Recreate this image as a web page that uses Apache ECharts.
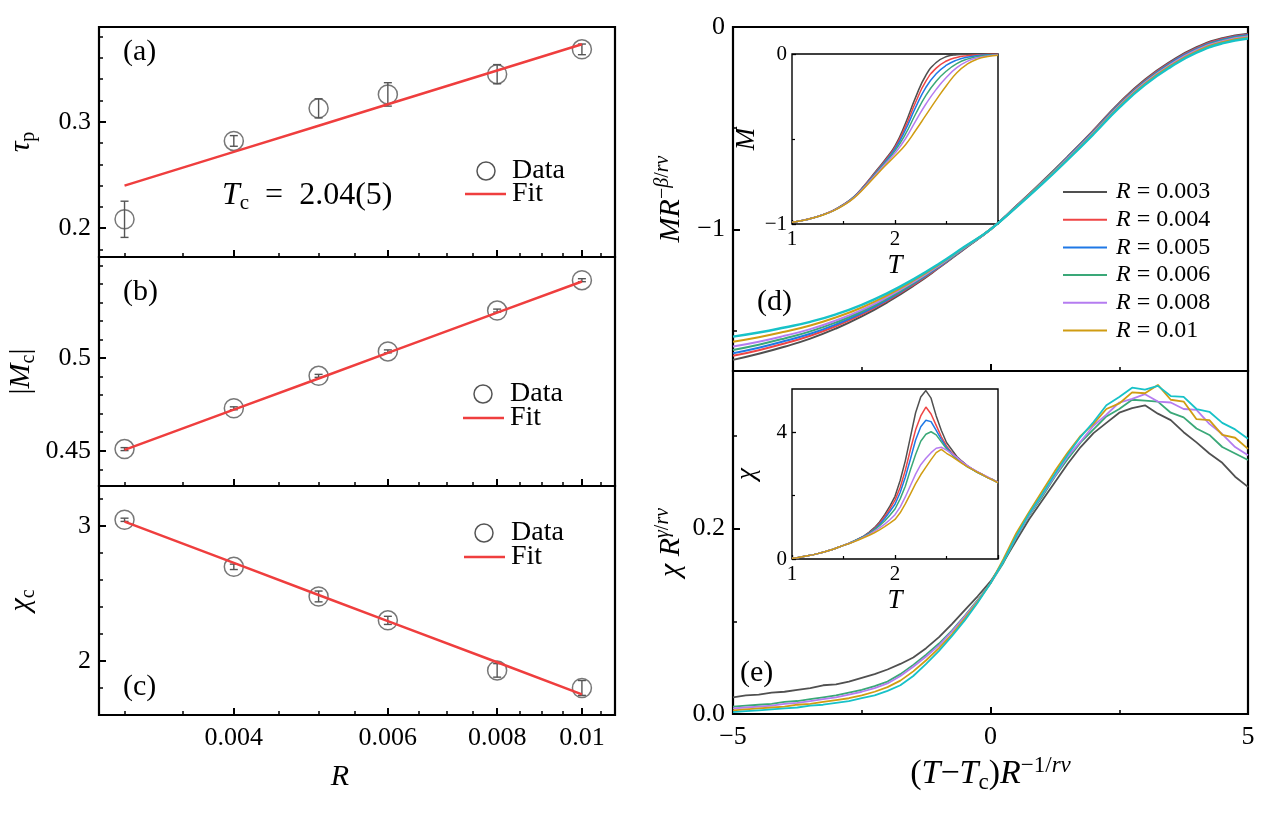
<!DOCTYPE html>
<html><head><meta charset="utf-8">
<script src="https://cdn.jsdelivr.net/npm/echarts@6/dist/echarts.min.js"></script>
<style>html,body{margin:0;padding:0;background:#fff}#c{width:1261px;height:815px}</style>
</head><body><div id="c"></div>
<script>
// ---------- data: left panels ----------
const R = [0.003, 0.004, 0.005, 0.006, 0.008, 0.01];
const tauP = [0.2084, 0.282, 0.3126, 0.3257, 0.3447, 0.368];
const tauPErr = [0.017, 0.005, 0.009, 0.011, 0.009, 0.005];
const tauPFit = [0.240, 0.2717, 0.2963, 0.3164, 0.3482, 0.3728];
const magC = [0.4509, 0.4729, 0.4904, 0.5036, 0.5256, 0.542];
const magCErr = [0.0008, 0.0008, 0.0008, 0.0008, 0.0008, 0.0008];
const magCFit = [0.4505, 0.4722, 0.4890, 0.5028, 0.5245, 0.5413];
const chiC = [3.044, 2.696, 2.477, 2.30, 1.93, 1.80];
const chiCErr = [0.012, 0.02, 0.04, 0.03, 0.05, 0.055];
const chiCFit = [3.03, 2.725, 2.488, 2.295, 1.990, 1.753];
const leftMajorR = [0.004, 0.006, 0.008, 0.01];
const leftMinorR = [0.003, 0.0035, 0.0045, 0.005, 0.0055, 0.0065, 0.007, 0.0075, 0.0085, 0.009, 0.0095, 0.0105];
const tauTicks = [0.2, 0.3];
const tauMinor = [0.18, 0.22, 0.24, 0.26, 0.28, 0.32, 0.34, 0.36, 0.38];
const magTicks = [0.45, 0.5];
const magMinor = [0.44, 0.46, 0.47, 0.48, 0.49, 0.51, 0.52, 0.53, 0.54, 0.55];
const chiTicks = [2, 3];
const chiMinor = [1.8, 2.2, 2.4, 2.6, 2.8, 3.2];

// ---------- data: panel (d) ----------
const legendNames = ['R = 0.003', 'R = 0.004', 'R = 0.005', 'R = 0.006', 'R = 0.008', 'R = 0.01'];
const dX = [-5, -4.5, -4, -3.5, -3, -2.5, -2, -1.5, -1, -0.5, 0, 0.5, 1, 1.5, 2, 2.5, 3, 3.5, 4, 4.5, 5];
const dBlack  = [-1.645,-1.615,-1.580,-1.540,-1.490,-1.430,-1.360,-1.280,-1.190,-1.095,-1.000,-0.885,-0.765,-0.640,-0.510,-0.375,-0.260,-0.170,-0.100,-0.055,-0.033];
const dRed    = [-1.625,-1.597,-1.564,-1.526,-1.478,-1.420,-1.352,-1.274,-1.187,-1.093,-1.000,-0.886,-0.767,-0.643,-0.513,-0.379,-0.264,-0.175,-0.105,-0.059,-0.037];
const dBlue   = [-1.612,-1.585,-1.552,-1.516,-1.470,-1.414,-1.347,-1.270,-1.184,-1.092,-1.000,-0.887,-0.769,-0.645,-0.516,-0.382,-0.268,-0.178,-0.108,-0.063,-0.040];
const dGreen  = [-1.596,-1.570,-1.539,-1.504,-1.460,-1.406,-1.341,-1.266,-1.181,-1.091,-1.000,-0.888,-0.770,-0.647,-0.519,-0.385,-0.271,-0.182,-0.112,-0.066,-0.043];
const dPurple = [-1.579,-1.555,-1.526,-1.493,-1.450,-1.398,-1.334,-1.261,-1.179,-1.089,-1.000,-0.888,-0.772,-0.649,-0.521,-0.389,-0.275,-0.185,-0.115,-0.070,-0.047];
const dGold   = [-1.555,-1.533,-1.506,-1.475,-1.435,-1.386,-1.325,-1.254,-1.174,-1.087,-1.000,-0.890,-0.774,-0.653,-0.526,-0.394,-0.280,-0.191,-0.121,-0.075,-0.052];
const dCyan   = [-1.530,-1.510,-1.485,-1.457,-1.420,-1.373,-1.315,-1.247,-1.170,-1.085,-1.000,-0.891,-0.777,-0.656,-0.530,-0.399,-0.286,-0.197,-0.127,-0.081,-0.057];

// inset (d): M vs T
const mT = [1.0,1.1,1.2,1.3,1.4,1.5,1.6,1.7,1.8,1.9,2.0,2.1,2.2,2.3,2.4,2.5,2.6,2.7,2.8,2.9,3.0];
const mBlack  = [-0.99,-0.98,-0.965,-0.945,-0.92,-0.885,-0.84,-0.775,-0.70,-0.625,-0.54,-0.41,-0.255,-0.125,-0.05,-0.015,-0.004,-0.001,0,0,0];
const mRed    = [-0.99,-0.98,-0.965,-0.945,-0.92,-0.886,-0.841,-0.777,-0.704,-0.630,-0.549,-0.429,-0.284,-0.160,-0.083,-0.041,-0.020,-0.010,-0.0045,-0.002,-0.001];
const mBlue   = [-0.99,-0.98,-0.965,-0.946,-0.921,-0.887,-0.842,-0.780,-0.708,-0.636,-0.558,-0.448,-0.314,-0.196,-0.116,-0.066,-0.036,-0.019,-0.009,-0.0045,-0.0024];
const mGreen  = [-0.99,-0.98,-0.965,-0.946,-0.922,-0.888,-0.844,-0.783,-0.713,-0.643,-0.570,-0.473,-0.353,-0.243,-0.160,-0.100,-0.057,-0.030,-0.015,-0.0075,-0.004];
const mPurple = [-0.99,-0.98,-0.965,-0.946,-0.922,-0.889,-0.846,-0.786,-0.718,-0.650,-0.583,-0.500,-0.395,-0.294,-0.208,-0.137,-0.080,-0.043,-0.022,-0.011,-0.006];
const mGold   = [-0.99,-0.98,-0.965,-0.947,-0.923,-0.89,-0.848,-0.79,-0.725,-0.66,-0.60,-0.535,-0.45,-0.36,-0.27,-0.185,-0.11,-0.06,-0.03,-0.015,-0.008];

// ---------- data: panel (e) ----------
const eX = [-5,-4.75,-4.5,-4.25,-4,-3.75,-3.5,-3.25,-3,-2.75,-2.5,-2.25,-2,-1.75,-1.5,-1.25,-1,-0.75,-0.5,-0.25,0,0.25,0.5,0.75,1,1.25,1.5,1.75,2,2.25,2.5,2.75,3,3.25,3.5,3.75,4,4.25,4.5,4.75,5];
const eBlack  = [0.018,0.020,0.021,0.023,0.024,0.026,0.028,0.031,0.032,0.035,0.039,0.043,0.048,0.054,0.061,0.071,0.083,0.097,0.112,0.127,0.143,0.164,0.187,0.210,0.230,0.250,0.270,0.288,0.303,0.314,0.325,0.330,0.333,0.324,0.317,0.304,0.293,0.281,0.271,0.256,0.245];
const eGreen  = [0.008,0.009,0.010,0.011,0.013,0.014,0.016,0.018,0.020,0.023,0.026,0.030,0.035,0.043,0.053,0.064,0.076,0.090,0.106,0.123,0.141,0.163,0.190,0.214,0.234,0.256,0.275,0.293,0.307,0.321,0.329,0.339,0.338,0.337,0.325,0.320,0.308,0.301,0.288,0.281,0.274];
const ePurple = [0.006,0.007,0.008,0.009,0.011,0.012,0.014,0.016,0.018,0.021,0.024,0.028,0.033,0.041,0.051,0.062,0.074,0.089,0.105,0.122,0.141,0.165,0.191,0.215,0.236,0.257,0.278,0.294,0.311,0.323,0.336,0.340,0.345,0.337,0.336,0.329,0.328,0.313,0.302,0.288,0.279];
const eGold   = [0.004,0.005,0.006,0.007,0.008,0.010,0.011,0.013,0.015,0.017,0.020,0.024,0.029,0.036,0.046,0.058,0.071,0.086,0.103,0.121,0.141,0.167,0.195,0.218,0.240,0.262,0.282,0.300,0.313,0.329,0.335,0.347,0.346,0.355,0.339,0.337,0.318,0.317,0.301,0.298,0.286];
const eCyan   = [0.002,0.003,0.004,0.005,0.006,0.007,0.009,0.010,0.012,0.014,0.017,0.020,0.025,0.031,0.041,0.054,0.068,0.084,0.101,0.120,0.141,0.165,0.192,0.216,0.237,0.259,0.280,0.299,0.315,0.333,0.342,0.352,0.350,0.354,0.343,0.342,0.329,0.326,0.314,0.307,0.297];

// inset (e): chi vs T
const cT = [1.00,1.05,1.10,1.15,1.20,1.25,1.30,1.35,1.40,1.45,1.50,1.55,1.60,1.65,1.70,1.75,1.80,1.85,1.90,1.95,2.00,2.05,2.10,2.15,2.20,2.25,2.30,2.35,2.40,2.45,2.50,2.55,2.60,2.65,2.70,2.75,2.80,2.85,2.90,2.95,3.00];
const cBlack  = [0.02,0.04,0.07,0.10,0.13,0.17,0.21,0.26,0.31,0.37,0.43,0.49,0.56,0.64,0.73,0.85,0.99,1.17,1.40,1.67,1.98,2.48,3.10,3.86,4.62,5.12,5.32,5.08,4.52,4.06,3.68,3.46,3.24,3.09,2.95,2.85,2.74,2.67,2.57,2.51,2.42];
const cRed    = [0.02,0.04,0.07,0.10,0.13,0.17,0.21,0.26,0.31,0.37,0.43,0.49,0.56,0.64,0.72,0.83,0.96,1.13,1.34,1.58,1.86,2.26,2.80,3.46,4.08,4.52,4.80,4.58,4.22,3.86,3.57,3.36,3.20,3.06,2.94,2.84,2.75,2.66,2.58,2.50,2.43];
const cBlue   = [0.02,0.04,0.07,0.10,0.13,0.17,0.21,0.26,0.31,0.37,0.43,0.49,0.56,0.64,0.72,0.82,0.94,1.09,1.28,1.50,1.73,2.10,2.58,3.16,3.76,4.18,4.38,4.34,4.06,3.78,3.52,3.33,3.17,3.05,2.93,2.83,2.74,2.65,2.58,2.49,2.41];
const cGreen  = [0.02,0.04,0.07,0.10,0.13,0.17,0.21,0.26,0.31,0.37,0.43,0.49,0.56,0.63,0.71,0.80,0.92,1.05,1.20,1.38,1.58,1.90,2.30,2.82,3.30,3.72,3.94,4.02,3.92,3.70,3.48,3.31,3.16,3.04,2.92,2.83,2.74,2.66,2.57,2.50,2.42];
const cPurple = [0.02,0.04,0.07,0.10,0.13,0.17,0.21,0.26,0.31,0.37,0.43,0.49,0.55,0.62,0.70,0.78,0.88,0.98,1.10,1.24,1.40,1.64,1.96,2.32,2.68,2.98,3.18,3.36,3.50,3.53,3.44,3.33,3.21,3.07,2.96,2.85,2.76,2.67,2.59,2.50,2.43];
const cGold   = [0.02,0.04,0.07,0.10,0.13,0.17,0.21,0.26,0.31,0.37,0.43,0.48,0.54,0.61,0.68,0.75,0.83,0.92,1.02,1.13,1.25,1.46,1.74,2.06,2.38,2.66,2.90,3.14,3.36,3.46,3.34,3.24,3.13,3.02,2.92,2.83,2.74,2.66,2.57,2.49,2.41];

// ---------- styling ----------
const FONT = 'Liberation Serif';
const COL = {black:'#505050', red:'#ef4545', blue:'#1f78e6', green:'#3aa878', purple:'#b57cf0', gold:'#d09c12', cyan:'#17c2c8'};
const FIT = '#ef3e3e';
const L = v => Math.log10(v);
const RMIN = 0.002805, RMAX = 0.01091;
const minus = v => (v < 0 ? '\u2212' + String(-v) : String(v));

const RICH = {
  i:   {fontFamily: FONT, fontStyle: 'italic', fontSize: 30, lineHeight: 36, color: '#000'},
  n:   {fontFamily: FONT, fontSize: 30, lineHeight: 36, color: '#000'},
  s:   {fontFamily: FONT, fontSize: 20, lineHeight: 20, verticalAlign: 'bottom', color: '#000'},
  sup: {fontFamily: FONT, fontStyle: 'italic', fontSize: 20, lineHeight: 20, verticalAlign: 'top', color: '#000'},
  supn:{fontFamily: FONT, fontSize: 20, lineHeight: 20, verticalAlign: 'top', color: '#000'},
  ii:  {fontFamily: FONT, fontStyle: 'italic', fontSize: 27, lineHeight: 30, color: '#000'},
  I:   {fontFamily: FONT, fontStyle: 'italic', fontSize: 34, lineHeight: 40, color: '#000'},
  N:   {fontFamily: FONT, fontSize: 34, lineHeight: 40, color: '#000'},
  S:   {fontFamily: FONT, fontSize: 23, lineHeight: 22, verticalAlign: 'bottom', color: '#000'},
  SUP: {fontFamily: FONT, fontStyle: 'italic', fontSize: 23, lineHeight: 23, verticalAlign: 'top', color: '#000'},
  SUPN:{fontFamily: FONT, fontSize: 23, lineHeight: 23, verticalAlign: 'top', color: '#000'}
};
const nameStyle = {fontFamily: FONT, fontSize: 30, color: '#000', rich: RICH};
const tickLine = {color: '#000', width: 2};
const minorLine = {color: '#000', width: 1.5};
const labelBase = {color: '#000', fontFamily: FONT, fontSize: 26};

const grids = [
  {left: 99, top: 27, width: 516, height: 230},
  {left: 99, top: 257, width: 516, height: 229},
  {left: 99, top: 486, width: 516, height: 229},
  {left: 733, top: 27, width: 515, height: 344},
  {left: 733, top: 371, width: 515, height: 343},
  {left: 792, top: 54, width: 206, height: 170},
  {left: 792, top: 389, width: 206, height: 170}
].map((g, i) => Object.assign({show: true, borderColor: '#000', borderWidth: i >= 5 ? 1.4 : 2.2, backgroundColor: 'transparent'}, g));

const base = (axisGrid, min, max, pos) => ({type: 'value', gridIndex: axisGrid, min, max, position: pos,
  axisLine: {show: false, onZero: false}, splitLine: {show: false}});

const xAxis = [];
const yAxis = [];
// left x main (0..2)
[0, 1, 2].forEach(g => xAxis.push(Object.assign(base(g, L(RMIN), L(RMAX), 'bottom'), {
  axisTick: {show: true, inside: true, length: 7, customValues: leftMajorR.map(L), lineStyle: tickLine},
  axisLabel: Object.assign({show: g === 2, customValues: leftMajorR.map(L), margin: 10,
    formatter: v => String(+Math.pow(10, v).toPrecision(3))}, labelBase),
  name: g === 2 ? '{i|R}' : '', nameLocation: 'middle', nameGap: 44,
  nameTextStyle: Object.assign({padding: [0, 34, 0, 0]}, nameStyle)
})));
// right x main (3,4)
[3, 4].forEach(g => xAxis.push(Object.assign(base(g, -5, 5, 'bottom'), {
  interval: 5,
  axisTick: {show: true, inside: true, length: 7, lineStyle: tickLine},
  minorTick: {show: true, splitNumber: 2, length: 4, lineStyle: minorLine},
  axisLabel: Object.assign({show: g === 4, margin: 10, formatter: minus}, labelBase),
  name: g === 4 ? '{N|(}{I|T}{N|\u2212}{I|T}{S|c}{N|)}{I|R}{SUPN|\u22121/}{SUP|r\u03bd}' : '',
  nameLocation: 'middle', nameGap: 40, nameTextStyle: nameStyle
})));
// insets x (5,6)
[5, 6].forEach(g => xAxis.push(Object.assign(base(g, 1, 3, 'bottom'), {
  interval: 1,
  axisTick: {show: true, inside: true, length: 4, lineStyle: {color: '#000', width: 1.3}},
  minorTick: {show: true, splitNumber: 2, length: 3, lineStyle: {color: '#000', width: 1.2}},
  axisLabel: {showMaxLabel: false, margin: 5, color: '#000', fontFamily: FONT, fontSize: 21},
  name: '{ii|T}', nameLocation: 'middle', nameGap: 27, nameTextStyle: nameStyle
})));
// left x minor overlays (7..9)
[0, 1, 2].forEach(g => xAxis.push(Object.assign(base(g, L(RMIN), L(RMAX), 'bottom'), {
  axisTick: {show: true, inside: true, length: 4, customValues: leftMinorR.map(L), lineStyle: minorLine},
  axisLabel: {show: false}
})));

// y axes
const yDefs = [
  {g: 0, min: 0.173, max: 0.389, major: tauTicks, minor: tauMinor, fmt: v => v.toFixed(1),
   name: '{i|\u03c4}{s|p}', gap: 60},
  {g: 1, min: 0.431, max: 0.5545, major: magTicks, minor: magMinor, fmt: v => String(v),
   name: '{n||}{i|M}{s|c}{n||}', gap: 60},
  {g: 2, min: 1.6, max: 3.294, major: chiTicks, minor: chiMinor, fmt: v => String(v),
   name: '{i|\u03c7}{s|c}', gap: 60},
  {g: 3, min: -1.7, max: 0, major: [-1, 0], minor: [-1.5, -0.5], fmt: minus,
   name: '{i|MR}{supn|\u2212}{sup|\u03b2}{supn|/}{sup|r\u03bd}', gap: 44},
  {g: 4, min: 0, max: 0.37, major: [0, 0.2], minor: [0.1, 0.3], fmt: v => v.toFixed(1),
   name: '{i|\u03c7 R}{sup|\u03b3}{supn|/}{sup|r\u03bd}', gap: 44},
  {g: 5, min: -1, max: 0, major: [-1, 0], minor: [-0.5], fmt: minus, name: '{ii|M}', gap: 29, inset: true},
  {g: 6, min: 0, max: 5.37, major: [0, 4], minor: [2], fmt: v => String(v), name: '{ii|\u03c7}', gap: 30, inset: true}
];
yDefs.forEach(d => yAxis.push(Object.assign(base(d.g, d.min, d.max, 'left'), {
  axisTick: {show: true, inside: true, length: d.inset ? 4 : 7, customValues: d.major,
    lineStyle: d.inset ? {color: '#000', width: 1.3} : tickLine},
  axisLabel: d.inset
    ? {customValues: d.major, formatter: d.fmt, margin: 5, color: '#000', fontFamily: FONT, fontSize: 21}
    : Object.assign({customValues: d.major, formatter: d.fmt, margin: 8}, labelBase),
  name: d.name, nameLocation: 'middle', nameGap: d.gap, nameRotate: 90, nameTextStyle: nameStyle
})));
yDefs.forEach(d => yAxis.push(Object.assign(base(d.g, d.min, d.max, 'left'), {
  axisTick: {show: true, inside: true, length: d.inset ? 3 : 4, customValues: d.minor,
    lineStyle: d.inset ? {color: '#000', width: 1.2} : minorLine},
  axisLabel: {show: false}
})));

// ---------- series ----------
const series = [];
function leftPanel(g, vals, errs, fit) {
  series.push({
    type: 'custom', xAxisIndex: g, yAxisIndex: g, z: 2,
    data: R.map((r, i) => [L(r), vals[i], errs[i]]),
    encode: {x: 0, y: 1},
    renderItem: (params, api) => {
      const x = api.value(0), y = api.value(1), e = api.value(2);
      const t = api.coord([x, y + e]), b = api.coord([x, y - e]);
      const st = {stroke: '#555', lineWidth: 1.4};
      return {type: 'group', children: [
        {type: 'line', shape: {x1: t[0], y1: t[1], x2: b[0], y2: b[1]}, style: st},
        {type: 'line', shape: {x1: t[0] - 4, y1: t[1], x2: t[0] + 4, y2: t[1]}, style: st},
        {type: 'line', shape: {x1: b[0] - 4, y1: b[1], x2: b[0] + 4, y2: b[1]}, style: st}
      ]};
    }
  });
  series.push({
    type: 'scatter', xAxisIndex: g, yAxisIndex: g, z: 3, name: 'Data',
    data: R.map((r, i) => [L(r), vals[i]]), symbol: 'circle', symbolSize: 19,
    itemStyle: {color: 'rgba(0,0,0,0)', borderColor: '#555', borderWidth: 1.5}
  });
  series.push({
    type: 'line', xAxisIndex: g, yAxisIndex: g, z: 4, name: 'Fit',
    data: R.map((r, i) => [L(r), fit[i]]), showSymbol: false, symbol: 'none',
    lineStyle: {color: FIT, width: 2.5}, itemStyle: {color: FIT}
  });
}
leftPanel(0, tauP, tauPErr, tauPFit);
leftPanel(1, magC, magCErr, magCFit);
leftPanel(2, chiC, chiCErr, chiCFit);

function curve(g, xs, ys, name, color, width, smooth) {
  series.push({
    type: 'line', xAxisIndex: g, yAxisIndex: g, name, data: xs.map((x, i) => [x, ys[i]]),
    showSymbol: false, symbol: 'none', smooth: smooth, clip: true,
    lineStyle: {color, width}, itemStyle: {color}
  });
}
const dSets = [dBlack, dRed, dBlue, dGreen, dPurple, dGold];
const colList = [COL.black, COL.red, COL.blue, COL.green, COL.purple, COL.gold];
dSets.forEach((ys, i) => curve(3, dX, ys, legendNames[i], colList[i], 2, true));
curve(3, dX, dCyan, 'extra', COL.cyan, 2.4, true);

curve(4, eX, eBlack, legendNames[0], COL.black, 1.8, false);
curve(4, eX, eGreen, legendNames[3], COL.green, 1.8, false);
curve(4, eX, ePurple, legendNames[4], COL.purple, 1.8, false);
curve(4, eX, eGold, legendNames[5], COL.gold, 1.8, false);
curve(4, eX, eCyan, 'extra', COL.cyan, 1.8, false);

[mBlack, mRed, mBlue, mGreen, mPurple, mGold].forEach((ys, i) => curve(5, mT, ys, legendNames[i], colList[i], 1.5, true));
[cBlack, cRed, cBlue, cGreen, cPurple, cGold].forEach((ys, i) => curve(6, cT, ys, legendNames[i], colList[i], 1.5, false));

// ---------- annotations ----------
const T = (x, y, text, size, extra) => ({type: 'text', x, y, z: 10, style: Object.assign(
  {text, fontFamily: FONT, fontSize: size, fill: '#000', verticalAlign: 'middle', align: 'left'}, extra || {})});
const dataFit = (cx, cy, tx, fy, lx1, lx2) => [
  {type: 'circle', z: 10, shape: {cx, cy, r: 9}, style: {fill: 'none', stroke: '#555', lineWidth: 1.5}},
  T(tx, cy, 'Data', 28),
  {type: 'line', z: 10, shape: {x1: lx1, y1: fy, x2: lx2, y2: fy}, style: {stroke: FIT, lineWidth: 2.5}},
  T(tx, fy, 'Fit', 28)
];
const elements = [
  T(123, 52, '(a)', 30), T(123, 292, '(b)', 30), T(123, 687, '(c)', 30),
  T(757, 302, '(d)', 30), T(740, 673, '(e)', 30),
  T(222, 196, '{i|T}{s|c}{n|  =  2.04(5)}', 32, {rich: {
    i: {fontFamily: FONT, fontStyle: 'italic', fontSize: 32, lineHeight: 36},
    n: {fontFamily: FONT, fontSize: 32, lineHeight: 36},
    s: {fontFamily: FONT, fontSize: 21, lineHeight: 21, verticalAlign: 'bottom'}}})
].concat(dataFit(486, 171, 512, 194, 465, 506))
 .concat(dataFit(483, 394, 510, 418, 463, 504))
 .concat(dataFit(484, 533, 511, 557, 464, 505));

const chart = echarts.init(document.getElementById('c'), null, {renderer: 'canvas'});
chart.setOption({
  animation: false,
  backgroundColor: '#fff',
  grid: grids,
  xAxis, yAxis, series,
  legend: [{
    data: legendNames, orient: 'vertical', left: 1063, top: 180, padding: 0,
    itemWidth: 44, itemHeight: 2, itemGap: 3.7, icon: 'rect', selectedMode: false,
    formatter: n => '{i|R} = ' + n.slice(4),
    textStyle: {fontFamily: FONT, fontSize: 24, lineHeight: 23, color: '#000', padding: [0, 0, 0, 4],
      rich: {i: {fontFamily: FONT, fontStyle: 'italic', fontSize: 24, lineHeight: 23, color: '#000'}}}
  }],
  graphic: {elements}
});
</script></body></html>
